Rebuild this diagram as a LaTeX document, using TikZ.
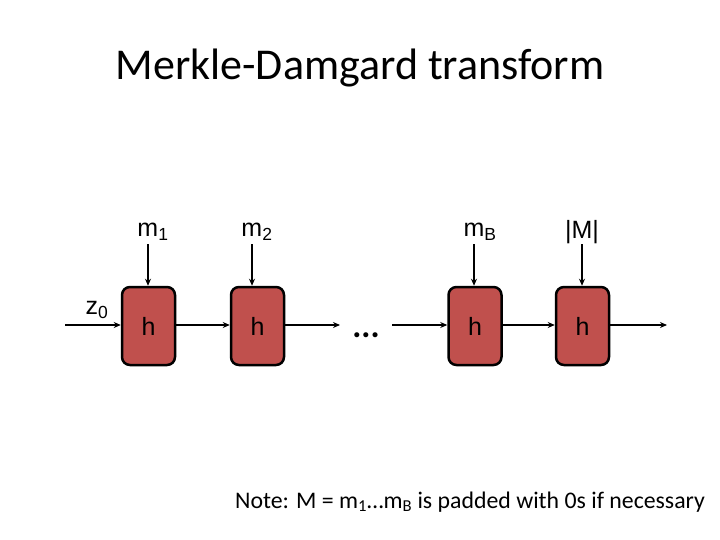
\documentclass[tikz,border=0pt]{standalone}
\usepackage{fontspec}
\setmainfont{Liberation Sans}
\newfontfamily\calib{Carlito}
\usetikzlibrary{arrows.meta}
\definecolor{boxred}{HTML}{C0504D}
\begin{document}
\begin{tikzpicture}[x=1pt,y=-1pt,
  hbox/.style={draw=black,line width=2.5pt,fill=boxred,rounded corners=8pt,minimum width=53pt,minimum height=78pt,inner sep=0pt,font=\fontsize{25}{27}\selectfont},
  lab/.style={font=\fontsize{25}{27}\selectfont,inner sep=0pt},
  arr/.style={line width=1.6pt,-{Stealth[length=7pt,width=6pt]}}]
\useasboundingbox (0,0) rectangle (720,540);
\node[font=\calib\fontsize{44}{48}\selectfont] (title) at (360,68) {Merkle-Damgard transform};
\node[hbox] (h1) at (148.5,326) {h};
\node[hbox] (h2) at (257.5,326) {h};
\node[hbox] (h3) at (475,326) {h};
\node[hbox] (h4) at (582.5,326) {h};
\node[lab] (m1) at (153,232) {m\textsubscript{1}};
\node[lab] (m2) at (257,232) {m\textsubscript{2}};
\node[lab] (mB) at (480,232) {m\textsubscript{B}};
\node[lab] (M) at (582,232) {|M|};
\node[lab] (z0) at (97,310) {z\textsubscript{0}};
\node[font=\calib\bfseries\fontsize{34}{36}\selectfont,inner sep=0pt,anchor=base] (dots) at (366,337) {...};
\coordinate (zin) at (65,325);
\coordinate (d1) at (340,325);
\coordinate (d2) at (392,325);
\coordinate (out) at (667,325);
\draw[arr] (zin) -- (h1.west|-zin);
\draw[arr] (h1.east|-zin) -- (h2.west|-zin);
\draw[arr] (h2.east|-zin) -- (d1);
\draw[arr] (d2) -- (h3.west|-zin);
\draw[arr] (h3.east|-zin) -- (h4.west|-zin);
\draw[arr] (h4.east|-zin) -- (out);
\draw[arr] (148,244) -- (h1.north-|148,0);
\draw[arr] (252,244) -- (h2.north-|252,0);
\draw[arr] (474,244) -- (h3.north-|474,0);
\draw[arr] (582,244) -- (h4.north-|582,0);
\node[font=\calib\fontsize{23.8}{26}\selectfont,anchor=base west,inner sep=0pt] (note) at (235,508) {Note: M = m\textsubscript{1}…m\textsubscript{B} is padded with 0s if necessary};
\end{tikzpicture}
\end{document}
